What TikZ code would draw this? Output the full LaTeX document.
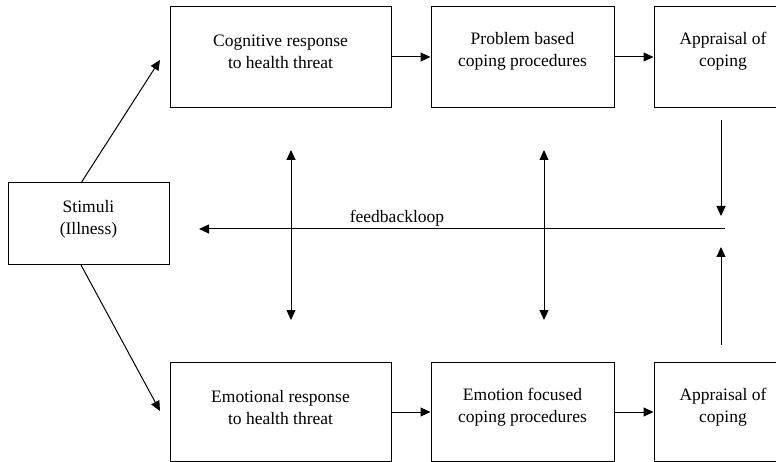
\documentclass[tikz,border=0pt]{standalone}
\usepackage{fontspec}
\setmainfont{Liberation Serif}
\usetikzlibrary{arrows.meta}
\begin{document}
\begin{tikzpicture}[x=1pt,y=-1pt,
  box/.style={draw, line width=1pt, rectangle, inner sep=0pt},
  txt/.style={align=center, font=\fontsize{17.5}{22}\selectfont, inner sep=0pt},
  arr/.style={line width=1pt, -{Triangle[length=10pt,width=9pt]}},
  dbl/.style={line width=1pt, {Triangle[length=10pt,width=9pt]}-{Triangle[length=10pt,width=9pt]}}]
\useasboundingbox (0,0) rectangle (776,462);
\clip (0,0) rectangle (776,462);
% boxes
\node[box, minimum width=161pt, minimum height=82pt] (stim) at (88.5,224) {};
\node[box, minimum width=221pt, minimum height=101pt] (cog) at (280.5,57.5) {};
\node[box, minimum width=183pt, minimum height=101pt] (prob) at (522.5,57.5) {};
\node[box, minimum width=138pt, minimum height=101pt] (appT) at (723,57.5) {};
\node[box, minimum width=221pt, minimum height=99pt] (emo) at (280.5,411.5) {};
\node[box, minimum width=183pt, minimum height=99pt] (emof) at (522.5,411.5) {};
\node[box, minimum width=138pt, minimum height=99pt] (appB) at (723,411.5) {};
% texts
\node[txt] (tstim) at ([yshift=5pt]stim.center) {Stimuli\\(Illness)};
\node[txt] (tcog) at ([yshift=6pt]cog.center) {Cognitive response\\to health threat};
\node[txt] (tprob) at ([yshift=6pt]prob.center) {Problem based\\coping procedures};
\node[txt] (tappT) at ([yshift=6pt]appT.center) {Appraisal of\\coping};
\node[txt] (temo) at ([yshift=4pt]emo.center) {Emotional response\\to health threat};
\node[txt] (temof) at ([yshift=4pt]emof.center) {Emotion focused\\coping procedures};
\node[txt] (tappB) at ([yshift=4pt]appB.center) {Appraisal of\\coping};
% coordinates
\coordinate (s1) at (81,183);
\coordinate (c1) at (160,60);
\coordinate (s2) at (81,265);
\coordinate (e1) at (160,411);
\coordinate (d1a) at (291,150);
\coordinate (d1b) at (291,320);
\coordinate (d2a) at (544,150);
\coordinate (d2b) at (544,320);
\coordinate (aTa) at (721,120);
\coordinate (aTb) at (721,216);
\coordinate (aBa) at (721,345);
\coordinate (aBb) at (721,247);
\coordinate (fbS) at (725,229);
\coordinate (fbE) at (199,229);
% connectors
\draw[arr] (s1) -- (c1);
\draw[arr] (s2) -- (e1);
\draw[arr] (cog.east |- 0,57) -- (prob.west |- 0,57);
\draw[arr] (prob.east |- 0,57) -- (appT.west |- 0,57);
\draw[arr] (emo.east |- 0,412) -- (emof.west |- 0,412);
\draw[arr] (emof.east |- 0,412) -- (appB.west |- 0,412);
\draw[dbl] (d1a) -- (d1b);
\draw[dbl] (d2a) -- (d2b);
\draw[arr] (aTa) -- (aTb);
\draw[arr] (aBa) -- (aBb);
\draw[arr] (fbS) -- (fbE);
\node[txt] (fbl) at (397,218) {feedbackloop};
\end{tikzpicture}
\end{document}
